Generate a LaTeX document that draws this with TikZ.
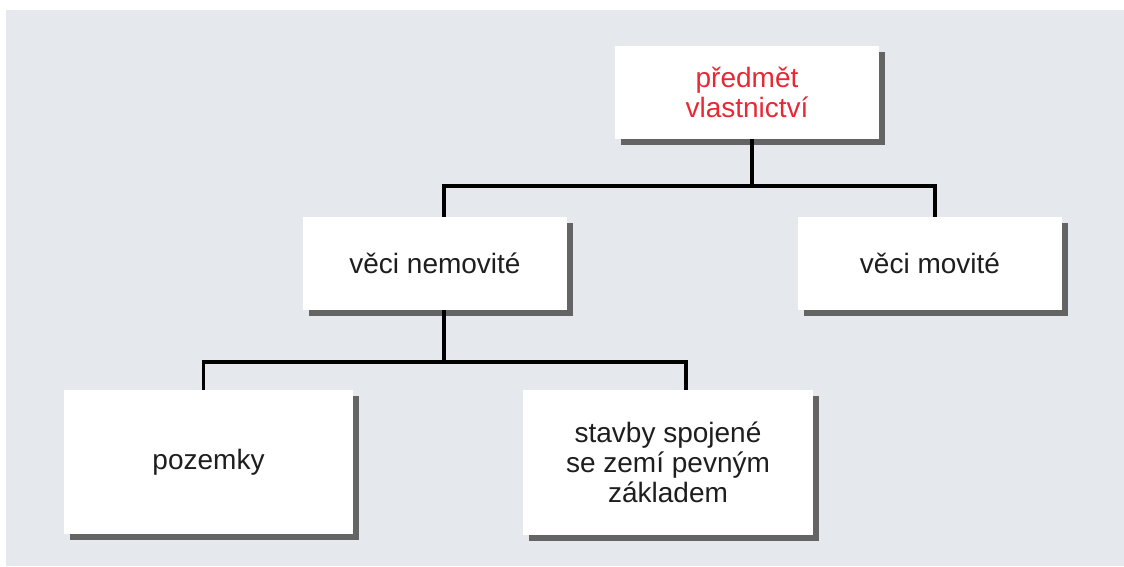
\documentclass[tikz,border=0pt]{standalone}
\usepackage{fontspec}
\setmainfont{Liberation Sans}
\usetikzlibrary{shadows}

\definecolor{panelbg}{RGB}{229,233,238}
\definecolor{shadowgray}{RGB}{100,100,100}
\definecolor{labelred}{RGB}{232,40,52}
\definecolor{labeltext}{RGB}{30,30,30}

\tikzset{
  box/.style={
    draw=none, fill=white, inner sep=0pt, align=center,
    text=labeltext,
    font=\fontsize{28}{30}\selectfont,
    general shadow={fill=shadowgray, shadow xshift=6pt, shadow yshift=-6pt}
  },
  conn/.style={draw=black, line width=3.2pt}
}

\begin{document}
\begin{tikzpicture}[x=1pt, y=-1pt]
  % page and panel
  \useasboundingbox (0,0) rectangle (1124,566);
  \fill[white] (0,0) rectangle (1124,566);
  \fill[panelbg] (6,10) rectangle (1124,566);

  % junction points of the two buses
  \coordinate (busA) at (752,186);
  \coordinate (busB) at (444,362);

  % boxes
  \node[box, minimum width=264pt, minimum height=93pt, text=labelred]
    (root) at (747,92.5) {předmět\\vlastnictví};
  \node[box, minimum width=264pt, minimum height=93pt]
    (nem) at (435,263.5) {věci nemovité};
  \node[box, minimum width=264pt, minimum height=93pt]
    (mov) at (930,263.5) {věci movité};
  \node[box, minimum width=289pt, minimum height=144pt]
    (poz) at (208.5,462) {pozemky};
  \node[box, minimum width=290pt, minimum height=145pt]
    (stav) at (668,462.5) {stavby spojené\\se zemí pevným\\základem};

  % connectors
  \draw[conn] ([xshift=5pt]root.south) -- (busA);
  \draw[conn] ([xshift=9pt]nem.north) |- (busA) -| ([xshift=5pt]mov.north);
  \draw[conn] ([xshift=9pt]nem.south) -- (busB);
  \draw[conn] ([xshift=-5pt]poz.north) |- (busB) -| ([xshift=18pt]stav.north);
\end{tikzpicture}
\end{document}
